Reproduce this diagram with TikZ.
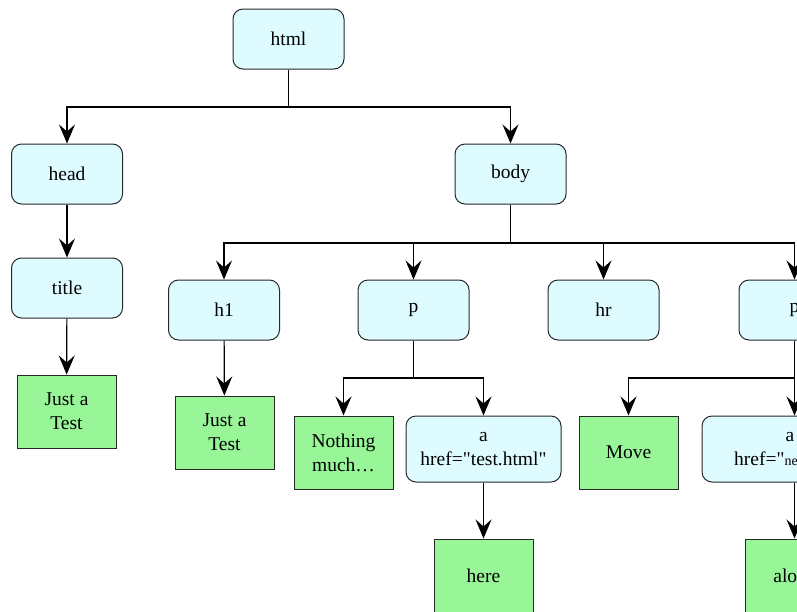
\documentclass[tikz,border=0pt]{standalone}
\usepackage{fontspec}
\setmainfont{Liberation Serif}
\usetikzlibrary{arrows.meta}
\definecolor{tagfill}{RGB}{222,251,255}
\definecolor{txtfill}{RGB}{152,246,152}
\definecolor{edge}{RGB}{40,40,40}
\tikzset{
  tagbox/.style={draw=edge, line width=1pt, fill=tagfill, rounded corners=10pt,
    minimum width=111pt, minimum height=60pt, inner sep=0pt, align=center,
    font=\fontsize{19.5}{24}\selectfont},
  txtbox/.style={draw=edge, line width=1pt, fill=txtfill,
    minimum width=99pt, minimum height=73pt, inner sep=0pt, align=center,
    font=\fontsize{19.5}{24}\selectfont},
  conn/.style={draw=black, line width=1.2pt},
  arr/.style={conn, -{Stealth[length=19pt,width=16pt,inset=7pt]}},
}
\newcommand{\dq}{\XeTeXglyph\XeTeXglyphindex "quotedbl"\relax}
\begin{document}
\begin{tikzpicture}[x=1pt,y=-1pt]
\useasboundingbox (0,0) rectangle (797,611);
\clip (0,0) rectangle (797,611);
\fill[white] (0,0) rectangle (797,611);

\node[tagbox] (html) at (288.5,39) {html};
\node[tagbox] (head) at (67,174) {head};
\node[tagbox] (body) at (510.5,174) {body};
\node[tagbox] (title) at (67,288) {title};
\node[txtbox] (t1) at (66.5,411.5) {Just a\\Test};
\node[tagbox] (h1) at (224,310) {h1};
\node[tagbox] (p) at (413.5,310) {p};
\node[tagbox] (hr) at (603.5,310) {hr};
\node[tagbox] (p2) at (794.5,310) {p};
\node[txtbox] (t2) at (224.5,432.5) {Just a\\Test};
\node[txtbox] (nothing) at (343.5,452.5) {Nothing\\much\dots};
\node[tagbox, minimum width=155pt, minimum height=66pt] (a1) at (483.5,449) {a\\href=\dq test.html\dq};
\node[txtbox] (here) at (483.5,575.5) {here};
\node[txtbox] (move) at (628.5,452.5) {Move};
\node[tagbox, minimum width=176pt, minimum height=66pt] (a2) at (790,449) {a\\href=\dq{\fontsize{14}{24}\selectfont next.html}\dq};
\node[txtbox] (alo) at (794.5,575.5) {alo\phantom{ne}};

\coordinate (j1) at (288.5,107);
\draw[conn] (html.south) -- (j1);
\draw[arr] (j1) -| (head.north);
\draw[arr] (j1) -| (body.north);
\draw[arr] (head) -- (title);
\draw[arr] (title) -- (t1);

\coordinate (j2) at (510.5,243);
\draw[conn] (body.south) -- (j2);
\draw[arr] (j2) -| (h1.north);
\draw[arr] (j2) -| (p.north);
\draw[arr] (j2) -| (hr.north);
\draw[arr] (j2) -| (p2.north);
\draw[arr] (h1) -- (t2);

\coordinate (j3) at (413.5,378);
\draw[conn] (p.south) -- (j3);
\draw[arr] (j3) -| (nothing.north);
\draw[arr] (j3) -| (a1.north);
\draw[arr] (a1) -- (here);

\coordinate (j4) at (794.5,378);
\draw[conn] (p2.south) -- (j4);
\draw[arr] (j4) -| (move.north);
\draw[arr] (j4) -- (j4 |- a2.north);
\draw[arr] (a2.south -| alo.north) -- (alo.north);
\end{tikzpicture}
\end{document}
